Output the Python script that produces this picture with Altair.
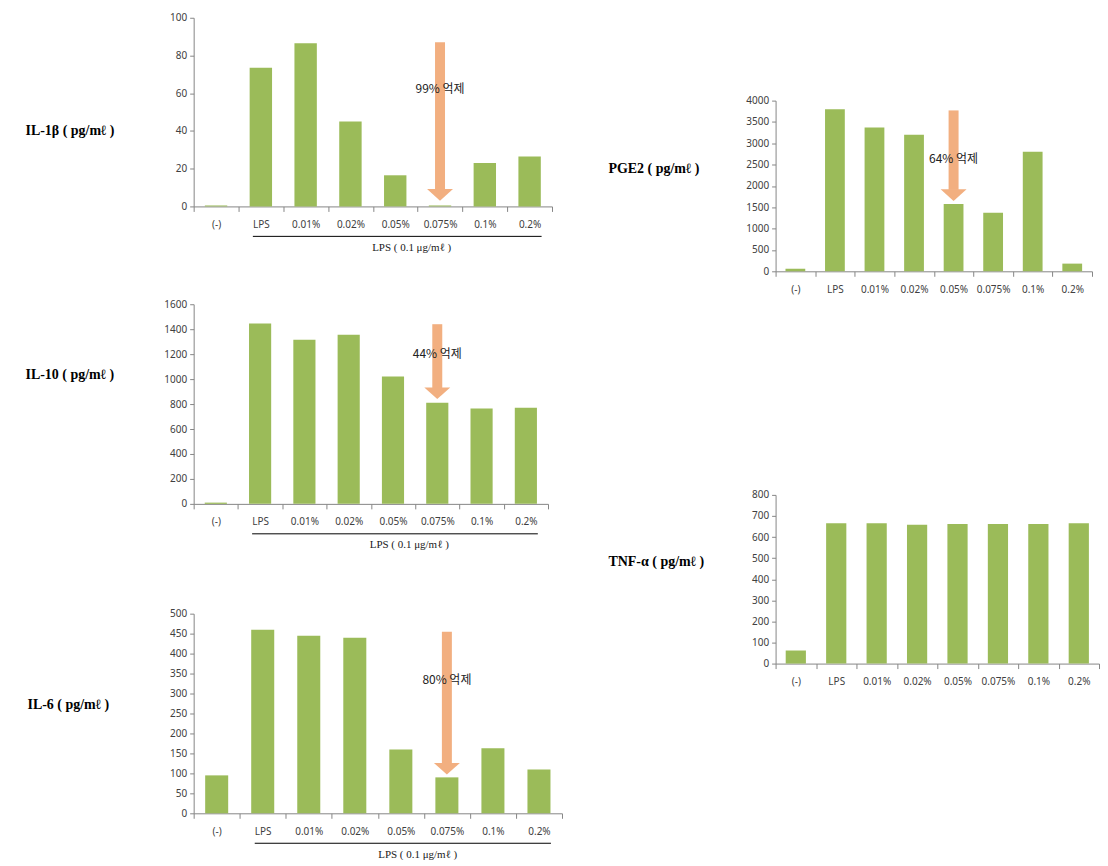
import altair as alt
import pandas as pd

cats = ["(-)", "LPS", "0.01%", "0.02%", "0.05%", "0.075%", "0.1%", "0.2%"]

il1b = [0.5, 73.5, 86.5, 45, 16.5, 0.5, 23, 26.5]
il10 = [10, 1445, 1315, 1355, 1020, 810, 765, 770]
il6 = [95, 460, 445, 440, 160, 90, 163, 110]
pge2 = [60, 3800, 3370, 3200, 1580, 1370, 2800, 180]
tnf = [62, 666, 666, 658, 662, 662, 662, 666]

il1b_ticks = [0, 20, 40, 60, 80, 100]
il10_ticks = [0, 200, 400, 600, 800, 1000, 1200, 1400, 1600]
il6_ticks = [0, 50, 100, 150, 200, 250, 300, 350, 400, 450, 500]
pge2_ticks = [0, 500, 1000, 1500, 2000, 2500, 3000, 3500, 4000]
tnf_ticks = [0, 100, 200, 300, 400, 500, 600, 700, 800]

# arrows: category, top value, tip value, label, label value
il1b_arrow = ["0.075%", 87, 3, "99% 억제", 62]
il10_arrow = ["0.075%", 1440, 840, "44% 억제", 1200]
il6_arrow = ["0.075%", 455, 97, "80% 억제", 335]
pge2_arrow = ["0.05%", 3770, 1650, "64% 억제", 2640]

lps_text = "LPS ( 0.1 μg/mℓ )"
lps_range = ["LPS", "0.2%"]

BAR = "#9BBB59"
ARROW = "#F2AF80"
AXIS = "#868686"
LABEL = "#404040"
SANS = "Noto Sans"
CJK = "Noto Sans CJK KR"
SERIF = "Liberation Serif, Noto Sans CJK KR"


def panel(title, values, ticks, w, h, title_x, title_y, arrow=None, lps=False):
    df = pd.DataFrame({"cat": cats, "val": values})
    xscale = alt.Scale(domain=cats, paddingInner=0, paddingOuter=0)
    yscale = alt.Scale(domain=[ticks[0], ticks[-1]], nice=False)
    xaxis_kw = dict(
        labelAngle=0, labelFont=SANS, labelFontSize=10, labelColor=LABEL,
        labelPadding=8, tickSize=5, tickBand="extent", domainColor=AXIS,
        tickColor=AXIS, grid=False,
    )
    if lps:
        xaxis_kw.update(
            title=lps_text, titleFont=SERIF, titleFontSize=11,
            titleFontWeight="normal", titleColor="#202020",
            titleX=w * 0.607, titleY=41, titleBaseline="middle",
        )
    else:
        xaxis_kw.update(title=None)
    xaxis = alt.Axis(**xaxis_kw)
    yaxis = alt.Axis(
        values=ticks, format="d", labelFont=SANS, labelFontSize=10, labelColor=LABEL,
        labelPadding=3, tickSize=4, domainColor=AXIS, tickColor=AXIS,
        grid=False, title=title, titleAngle=0, titleAlign="left",
        titleBaseline="middle", titleX=title_x, titleY=title_y,
        titleFont=SERIF, titleFontSize=14, titleFontWeight="bold",
        titleColor="black")
    bars = alt.Chart(df).mark_bar(color=BAR, width=alt.RelativeBandSize(0.5)).encode(
        x=alt.X("cat:N", sort=cats, scale=xscale, axis=xaxis),
        y=alt.Y("val:Q", scale=yscale, axis=yaxis),
    )
    layers = [bars]
    if arrow is not None:
        adf = pd.DataFrame({"cat": [arrow[0]], "top": [arrow[1]], "tip": [arrow[2]],
                            "lab": [arrow[3]], "ly": [arrow[4]]})
        shaft = alt.Chart(adf).mark_rule(color=ARROW, strokeWidth=10, y2Offset=-11).encode(
            x=alt.X("cat:N", sort=cats, scale=xscale, axis=xaxis),
            y=alt.Y("top:Q", scale=yscale, axis=yaxis),
            y2="tip:Q",
        )
        head = alt.Chart(adf).mark_point(
            shape="M-1,-0.9L1,-0.9L0,0Z", filled=True, size=676,
            color=ARROW, opacity=1, strokeWidth=0,
        ).encode(
            x=alt.X("cat:N", sort=cats, scale=xscale, axis=xaxis),
            y=alt.Y("tip:Q", scale=yscale, axis=yaxis),
        )
        txt = alt.Chart(adf).mark_text(font=CJK, fontSize=12, color="#222222").encode(
            x=alt.X("cat:N", sort=cats, scale=xscale, axis=xaxis),
            y=alt.Y("ly:Q", scale=yscale, axis=yaxis),
            text="lab:N",
        )
        layers += [shaft, head, txt]
    if lps:
        ldf = pd.DataFrame({"a": [lps_range[0]], "b": [lps_range[1]]})
        bracket = alt.Chart(ldf).mark_rule(color="black", strokeWidth=1, xOffset=-8, x2Offset=12).encode(
            x=alt.X("a:N", sort=cats, scale=xscale, axis=xaxis),
            x2="b:N",
            y=alt.value(h + 30),
        )
        layers.append(bracket)
    return alt.layer(*layers).properties(width=w, height=h)


def spacer(h):
    return alt.Chart(pd.DataFrame({"z": [0]})).mark_point(size=0, opacity=0).properties(
        width=1, height=h)


p1 = panel("IL-1β ( pg/mℓ )", il1b, il1b_ticks, 359, 189, -169, 113, il1b_arrow, True)
p2 = panel("IL-10 ( pg/mℓ )", il10, il10_ticks, 355, 200, -169, 70, il10_arrow, True)
p3 = panel("IL-6 ( pg/mℓ )", il6, il6_ticks, 369, 200, -167, 91, il6_arrow, True)
p4 = panel("PGE2 ( pg/mℓ )", pge2, pge2_ticks, 317, 171, -168, 68, pge2_arrow, False)
p5 = panel("\u00a0\u00a0\u00a0\u00a0TNF-α ( pg/mℓ )", tnf, tnf_ticks, 324, 169, -168, 67)

left = alt.vconcat(alt.vconcat(p1, p2, spacing=47), p3, spacing=59)
right = alt.vconcat(alt.vconcat(spacer(78), p4, spacing=0), p5, spacing=196)

chart = alt.hconcat(left, right, spacing=45).properties(
    padding={"left": 17, "top": 4, "right": 0, "bottom": 0}
).configure_view(stroke=None)

chart.save("out.html", embed_options={"renderer": "svg", "actions": False})
